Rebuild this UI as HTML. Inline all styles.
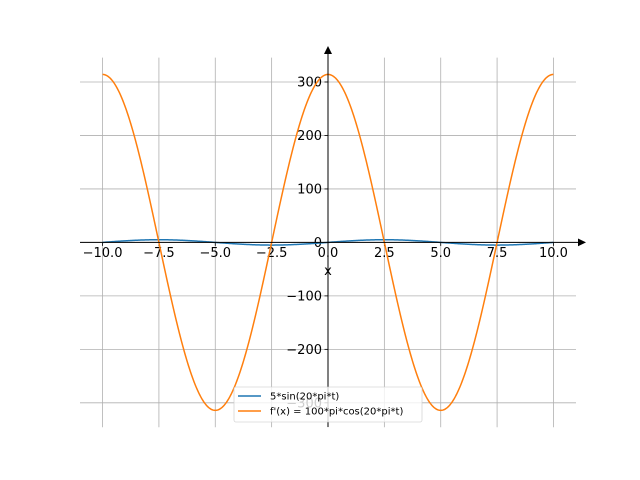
<!DOCTYPE html>
<html><head><meta charset="utf-8"><style>
body{margin:0;background:#fff}
svg{display:block;font-family:"DejaVu Sans","Liberation Sans",sans-serif}
</style></head><body>
<svg id="s" width="640" height="480" xmlns="http://www.w3.org/2000/svg">
<g id="grid" stroke="#b0b0b0" stroke-width="0.8"></g>
<g id="ticks" font-size="13" fill="#000"></g>
<path id="blue" fill="none" stroke="#1f77b4" stroke-width="1.5"/>
<path id="orange" fill="none" stroke="#ff7f0e" stroke-width="1.5"/>
<line x1="80" y1="242.4" x2="580" y2="242.4" stroke="#000" stroke-width="1"/>
<line x1="328" y1="427" x2="328" y2="52" stroke="#000" stroke-width="1"/>
<polygon points="586,242.4 578,238.5 578,246.3" fill="#000"/>
<polygon points="328,46 324,54 332,54" fill="#000"/>
<text x="328" y="275" font-size="13" text-anchor="middle">x</text>
<rect x="234" y="387" width="188" height="35" rx="2" fill="#fff" fill-opacity="0.8" stroke="#ccc" stroke-opacity="0.8" stroke-width="0.8"/>
<line x1="238" y1="396" x2="261" y2="396" stroke="#1f77b4" stroke-width="1.5"/>
<line x1="238" y1="411" x2="261" y2="411" stroke="#ff7f0e" stroke-width="1.5"/>
<text x="270" y="399.5" font-size="10">5*sin(20*pi*t)</text>
<text x="270" y="414.5" font-size="10">f'(x) = 100*pi*cos(20*pi*t)</text>
</svg>
<script>
var X=function(v){return 328+v*22.545},Y=function(v){return 242.4-v*0.5347};
var g=document.getElementById('grid'),t=document.getElementById('ticks'),ns="http://www.w3.org/2000/svg";
function el(p,n,a,txt){var e=document.createElementNS(ns,n);for(var k in a)e.setAttribute(k,a[k]);if(txt!=null)e.textContent=txt;p.appendChild(e);return e;}
[-10,-7.5,-5,-2.5,0,2.5,5,7.5,10].forEach(function(v){var x=X(v);el(g,'line',{x1:x,x2:x,y1:57.6,y2:427.2});
el(t,'line',{x1:x,x2:x,y1:242.4,y2:245.9,stroke:'#000','stroke-width':0.8});
el(t,'text',{x:x,y:257,'text-anchor':'middle'},(v<0?'\u2212':'')+Math.abs(v).toFixed(1));});
[-300,-200,-100,0,100,200,300].forEach(function(v){var y=Y(v);el(g,'line',{x1:80,x2:576,y1:y,y2:y});
el(t,'line',{x1:324.5,x2:328,y1:y,y2:y,stroke:'#000','stroke-width':0.8});
el(t,'text',{x:322,y:y+4.7,'text-anchor':'end'},(v<0?'\u2212':'')+Math.abs(v));});
var b='',o='';for(var i=0;i<=400;i++){var v=-10+i*0.05;
b+=(i?'L':'M')+X(v).toFixed(2)+','+Y(5*Math.sin(Math.PI*v/5)).toFixed(2);
o+=(i?'L':'M')+X(v).toFixed(2)+','+Y(100*Math.PI*Math.cos(Math.PI*v/5)).toFixed(2);}
document.getElementById('blue').setAttribute('d',b);document.getElementById('orange').setAttribute('d',o);
</script>
</body></html>
